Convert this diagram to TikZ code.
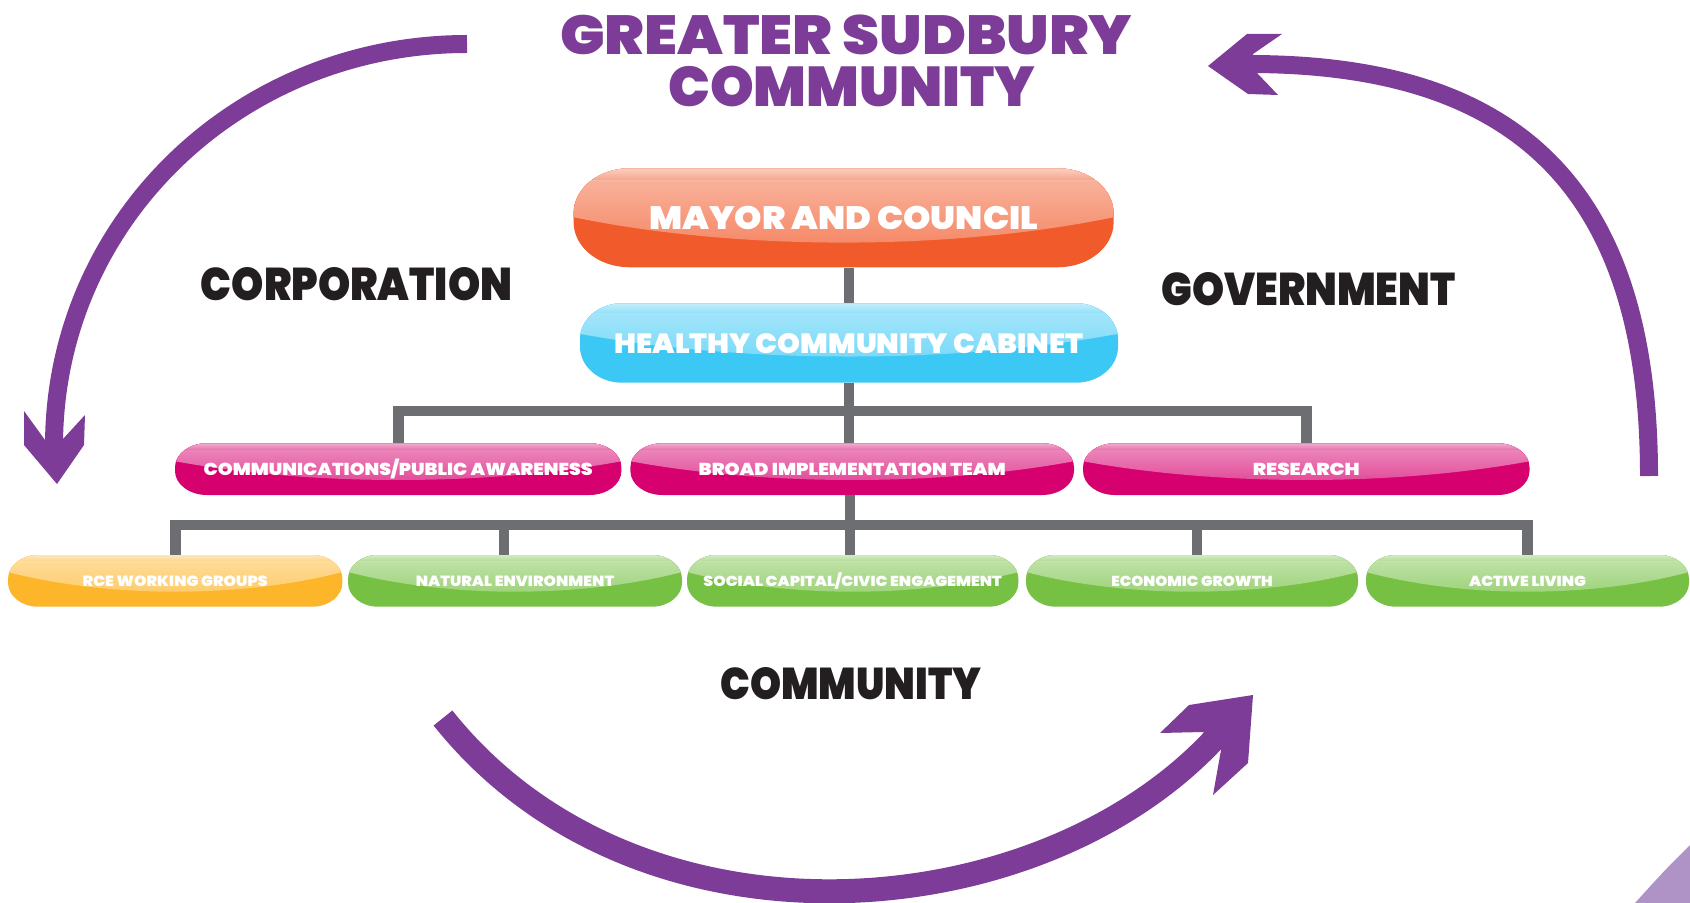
\documentclass[tikz,border=0pt]{standalone}
\usepackage{fontspec}
\setmainfont{Poppins}
\IfFontExistsTF{Poppins Black}{\newfontfamily\heavy{Poppins Black}}{%
 \IfFontExistsTF{Poppins ExtraBold}{\newfontfamily\heavy{Poppins ExtraBold}}{\def\heavy{\bfseries}}}
\usepackage{graphicx}
\definecolor{cpurple}{HTML}{7D3C97}
\definecolor{clpurple}{HTML}{B093C6}
\definecolor{cgray}{HTML}{6D6E71}
\definecolor{corange}{HTML}{F15A2B}
\definecolor{cblue}{HTML}{3BC8F5}
\definecolor{cmag}{HTML}{D6006E}
\definecolor{cgreen}{HTML}{76C043}
\definecolor{cyellow}{HTML}{FDB52A}
\definecolor{cblack}{HTML}{231F20}
\newcommand\lbl[3]{\raisebox{0pt}[\height][0pt]{\resizebox{#1pt}{#2pt}{\heavy #3}}}
\newcommand\slsh{\smash{/}}
\newcommand\gset[4]{\def\gside{#1}\def\gycf{#2}\def\grx{#3}\def\gry{#4}}
\newcommand\gbox[9]{%
 \pgfmathsetmacro\gw{(#4-#2)/2}%
 \pgfmathsetmacro\gh{(#5-#3)/2}%
 \path[fill=#6, path picture={\fill[top color=#6!42!white, bottom color=#6!80!white] (#2-2,#3-2) -- (#4+2,#3-2) -- (#4+2,{#3+\gside*(#5-#3)}) .. controls ({#4-0.3*(#4-#2)},{#3+\gycf*(#5-#3)}) and ({#2+0.3*(#4-#2)},{#3+\gycf*(#5-#3)}) .. (#2-2,{#3+\gside*(#5-#3)}) -- cycle;
 \fill[top color=white, bottom color=#6!42!white, opacity=0.7] (#2-2,#3-2) rectangle (#4+2,{#3+0.12*(#5-#3)});}]
 ({#2+\grx},#3) -- ({#4-\grx},#3) .. controls ({#4-0.4477*\grx},#3) and (#4,{#3+0.4477*\gry}) .. (#4,{#3+\gry}) -- (#4,{#5-\gry}) .. controls (#4,{#5-0.4477*\gry}) and ({#4-0.4477*\grx},#5) .. ({#4-\grx},#5) -- ({#2+\grx},#5) .. controls ({#2+0.4477*\grx},#5) and (#2,{#5-0.4477*\gry}) .. (#2,{#5-\gry}) -- (#2,{#3+\gry}) .. controls (#2,{#3+0.4477*\gry}) and ({#2+0.4477*\grx},#3) .. ({#2+\grx},#3) -- cycle;
 \node[boxtext, minimum width=\gw pt, minimum height=\gh pt] (#1) at ({(#2+#4)/2},{(#3+#5)/2}) {\lbl{#7}{#8}{#9}};
}
\tikzset{
 boxtext/.style={inner sep=0pt, text=white},
 conn/.style={draw=cgray, line width=5.35pt},
 lab/.style={inner sep=0pt, text=cblack},
 ttl/.style={inner sep=0pt, text=cpurple},
 shaft/.style={draw=cpurple},
 head/.style={fill=cpurple}
}
\begin{document}
\begin{tikzpicture}[x=0.5pt,y=-0.5pt]
\useasboundingbox (0,0) rectangle (1690,903);
\fill[white] (0,0) rectangle (1690,903);
% corner shape
\fill[clpurple] (1690,845) .. controls (1664,871) .. (1635,903) -- (1690,903) -- cycle;
% title
\node[ttl, anchor=base west] (t1) at (559.6,54.3) {\resizebox{286pt}{19.8pt}{\heavy GREATER SUDBURY}};
\node[ttl, anchor=base west] (t2) at (667.9,106.7) {\resizebox{183.5pt}{20.2pt}{\heavy COMMUNITY}};
% side labels
\node[lab, anchor=base west] (corp) at (200.5,300) {\resizebox{155.75pt}{16.5pt}{\heavy CORPORATION}};
\node[lab, anchor=base west] (gov) at (1161,306) {\resizebox{147pt}{16.5pt}{\heavy GOVERNMENT}};
\node[lab, anchor=base west] (comty) at (720,699) {\resizebox{130.5pt}{16pt}{\heavy COMMUNITY}};
% boxes
\gset{0.49}{0.837}{56}{45}
\gbox{mayor}{573.6}{168.3}{1113.6}{267.3}{corange}{194.5}{11.65}{MAYOR AND COUNCIL}
\gset{0.38}{0.767}{42}{36}
\gbox{cab}{580}{303.3}{1118}{382.7}{cblue}{234.5}{10}{HEALTHY COMMUNITY CABINET}
\gset{0.34}{0.833}{32}{24}
\gbox{comm}{175}{443.3}{621.4}{495}{cmag}{194.5}{6.2}{COMMUNICATIONS\slsh PUBLIC AWARENESS}
\gbox{broad}{630.4}{443.3}{1074}{495}{cmag}{153.5}{6.2}{BROAD IMPLEMENTATION TEAM}
\gbox{res}{1083}{443.3}{1529.5}{495}{cmag}{53.5}{6.2}{RESEARCH}
\gset{0.32}{0.84}{30}{24}
\gbox{rce}{8}{555}{342.4}{606.7}{cyellow}{92.5}{5.3}{RCE WORKING GROUPS}
\gbox{nat}{348}{555}{682}{606.7}{cgreen}{99.25}{5.3}{NATURAL ENVIRONMENT}
\gbox{soc}{687}{555}{1018.4}{606.7}{cgreen}{149.25}{5.2}{SOCIAL CAPITAL\slsh CIVIC ENGAGEMENT}
\gbox{eco}{1026}{555}{1358}{606.7}{cgreen}{80.75}{5.2}{ECONOMIC GROWTH}
\gbox{act}{1366}{555}{1689}{606.7}{cgreen}{58.5}{5.2}{ACTIVE LIVING}
% connectors
\coordinate (bus1) at (850,411);
\coordinate (bus2) at (850,525);
\draw[conn] (mayor.south -| cab.north) -- (cab.north);
\draw[conn] (cab.south) -- (cab.south |- broad.north);
\draw[conn] (comm.north) |- (bus1) -| (res.north);
\draw[conn] (broad.south -| bus2) -- (soc.north -| bus2);
\draw[conn] (rce.north) |- (bus2) -| (act.north);
\coordinate (natt) at ([xshift=-5.5pt]nat.north);
\coordinate (ecot) at ([xshift=2.5pt]eco.north);
\draw[conn] (natt) -- (natt |- bus2);
\draw[conn] (ecot) -- (ecot |- bus2);
% cycle arrows
\coordinate (la) at (467,44);
\coordinate (lb) at (54,446);
\draw[shaft, line width=9pt] (la) .. controls (239,44) and (54,221) .. (lb);
\fill[head] (45,440) -- (24,411) -- (24,445) -- (57,484) -- (84,445) -- (85,415) -- (63,439) -- cycle;
\coordinate (ra) at (1649,476);
\coordinate (rb) at (1249,64);
\draw[shaft, line width=9pt] (ra) .. controls (1649,186) and (1515,64) .. (rb);
\fill[head] (1253,54) -- (1282,34) -- (1247,34) -- (1208,66) -- (1248,94) -- (1278,95) -- (1257,73) -- cycle;
\coordinate (ba) at (443,718);
\coordinate (bb) at (1217,736);
\draw[shaft, line width=12pt] (ba) .. controls (637,962) and (1040,930) .. (bb);
\fill[head] (1203,732) -- (1160,733) -- (1189,705) -- (1253,695) -- (1248,763) -- (1213,795) -- (1221,750) -- cycle;
\end{tikzpicture}
\end{document}
